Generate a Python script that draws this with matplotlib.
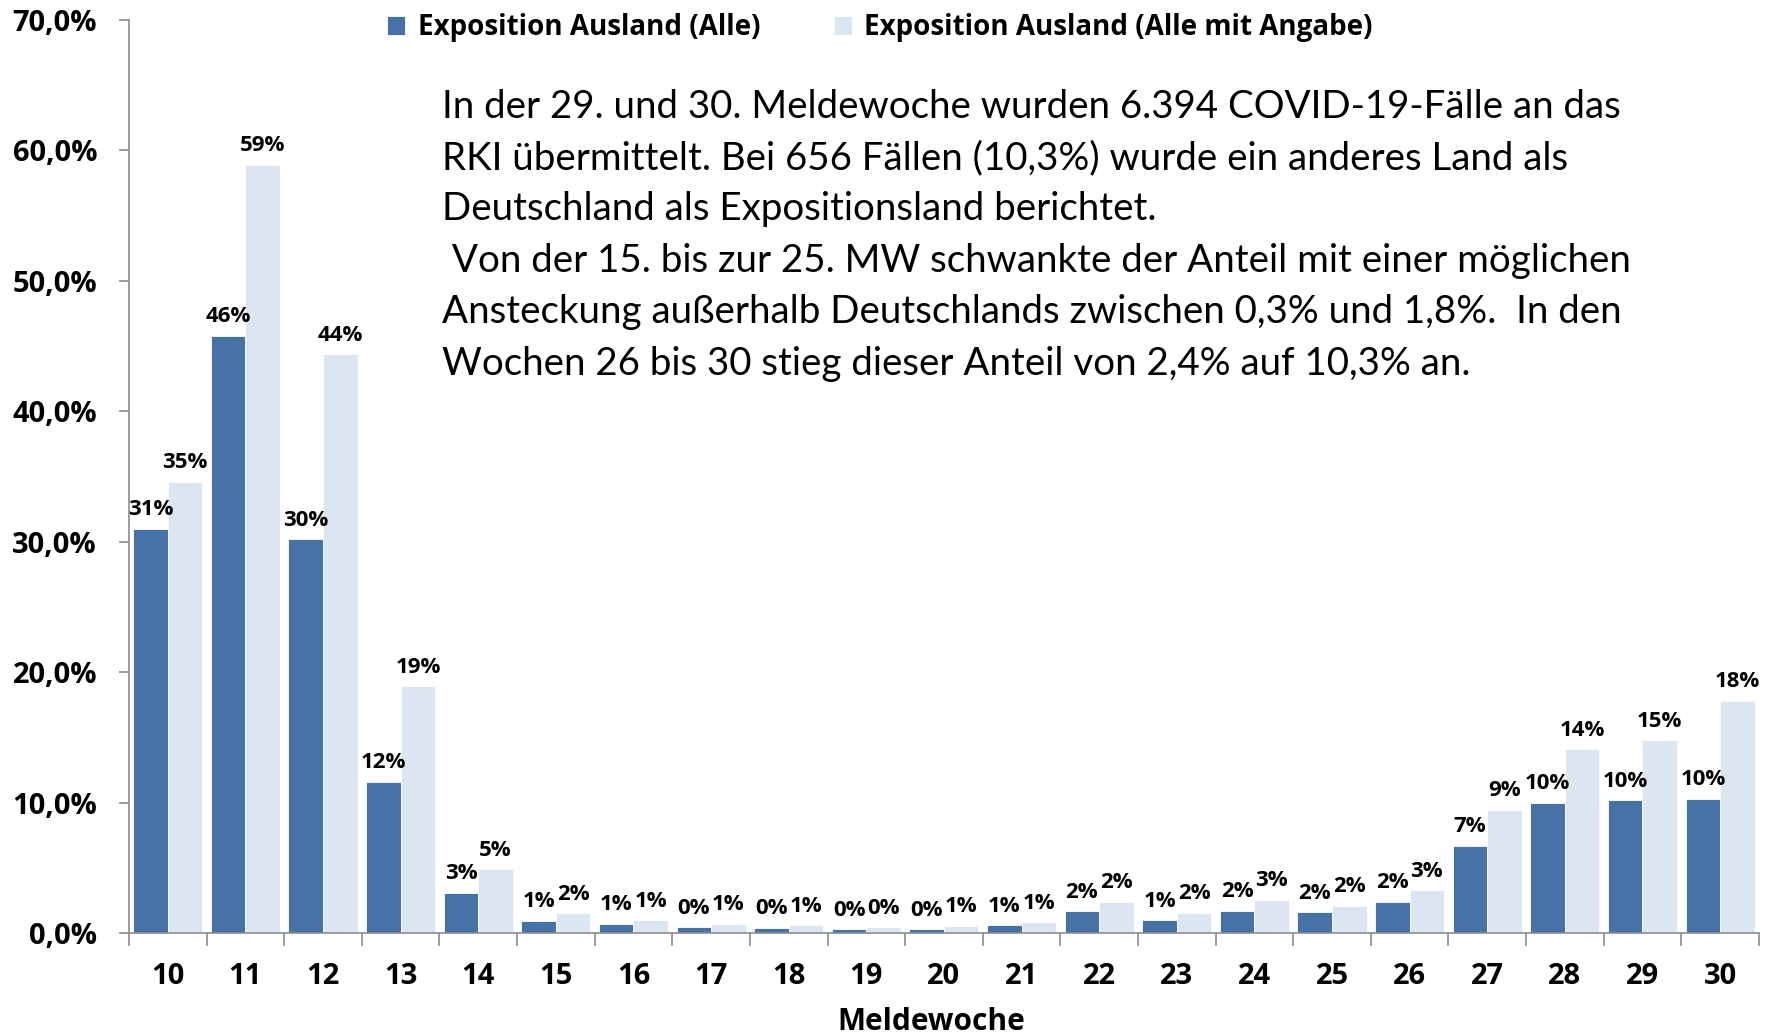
import matplotlib.pyplot as plt
import numpy as np

weeks = ["10", "11", "12", "13", "14", "15", "16", "17", "18", "19", "20",
         "21", "22", "23", "24", "25", "26", "27", "28", "29", "30"]
alle = [31.0, 45.8, 30.2, 11.6, 3.1, 0.95, 0.7, 0.45, 0.4, 0.3, 0.3,
        0.6, 1.65, 1.0, 1.7, 1.6, 2.4, 6.7, 10.0, 10.2, 10.3]
mit_angabe = [34.6, 58.9, 44.4, 18.9, 4.9, 1.5, 1.0, 0.7, 0.6, 0.45, 0.55,
              0.85, 2.4, 1.55, 2.55, 2.1, 3.3, 9.45, 14.1, 14.8, 17.8]
series_names = ["Exposition Ausland (Alle)", "Exposition Ausland (Alle mit Angabe)"]
yticks = [0, 10, 20, 30, 40, 50, 60, 70]

note_lines = [
    "In der 29. und 30. Meldewoche wurden 6.394 COVID-19-Fälle an das",
    "RKI übermittelt. Bei 656 Fällen (10,3%) wurde ein anderes Land als",
    "Deutschland als Expositionsland berichtet.",
    " Von der 15. bis zur 25. MW schwankte der Anteil mit einer möglichen",
    "Ansteckung außerhalb Deutschlands zwischen 0,3% und 1,8%.  In den",
    "Wochen 26 bis 30 stieg dieser Anteil von 2,4% auf 10,3% an.",
]

DARK, LIGHT, GREY = "#4672A6", "#DCE6F2", "#8C8C8C"
BOLD = ["Open Sans", "DejaVu Sans"]
plt.rcParams["font.family"] = ["Lato", "DejaVu Sans"]

fig = plt.figure(figsize=(17.74, 10.35), dpi=100)
ax = fig.add_axes([0.0727, 0.0986, 0.9188, 0.8821])

x = np.arange(len(weeks))
w = 0.445
b1 = ax.bar(x - w / 2, alle, w, color=DARK, edgecolor="white", linewidth=0.6, label=series_names[0])
b2 = ax.bar(x + w / 2, mit_angabe, w, color=LIGHT, edgecolor="white", linewidth=0.6, label=series_names[1])

for bars, vals in ((b1, alle), (b2, mit_angabe)):
    for rect, v in zip(bars, vals):
        ax.annotate(f"{v:.0f}%", (rect.get_x() + rect.get_width() / 2, v),
                    xytext=(0, 6), textcoords="offset points", family=BOLD,
                    ha="center", va="bottom", fontsize=16, fontweight="bold")

ax.set_xlim(-0.5, len(weeks) - 0.5)
ax.set_ylim(0, 70)
ax.set_yticks(yticks)
ax.set_yticklabels([f"{t:.1f}%".replace(".", ",") for t in yticks],
                   fontsize=21, fontweight="bold", family=BOLD)
ax.set_xticks(x)
ax.set_xticklabels(weeks, fontsize=21, fontweight="bold", family=BOLD)
ax.set_xticks(np.arange(-0.5, len(weeks)), minor=True)
ax.tick_params(axis="x", which="major", length=0, pad=21)
ax.tick_params(axis="x", which="minor", length=9, width=1.2, color=GREY, direction="out")
ax.tick_params(axis="y", length=7, width=1.2, color=GREY, pad=16)
ax.set_xlabel("Meldewoche", fontsize=21.5, fontweight="bold", family=BOLD)
ax.xaxis.set_label_coords(0.492, -0.081)

for s in ("top", "right"):
    ax.spines[s].set_visible(False)
for s in ("left", "bottom"):
    ax.spines[s].set_color(GREY)
    ax.spines[s].set_linewidth(1.2)

ax.legend(loc="upper left", bbox_to_anchor=(0.143, 1.035), ncol=2, frameon=False,
          prop={"family": BOLD, "size": 20, "weight": "bold"}, handlelength=0.65,
          handleheight=0.65, handletextpad=0.45, columnspacing=2.65)

for i, line in enumerate(note_lines):
    fig.text(0.249, 0.897 - i * 0.0497, line, fontsize=27.7, va="center", ha="left")

fig.savefig("out.png", dpi=100)
